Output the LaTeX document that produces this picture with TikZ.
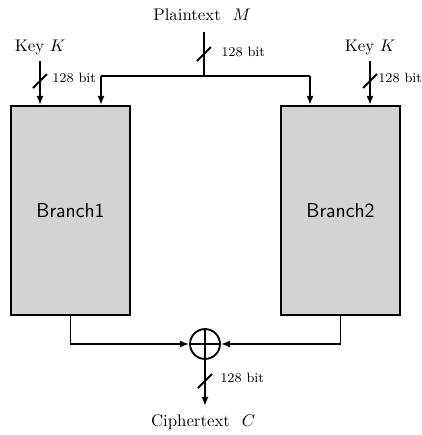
\documentclass[tikz,border=0pt]{standalone}
\usetikzlibrary{arrows.meta,calc}
\definecolor{boxgray}{HTML}{D3D3D3}
\begin{document}
\begin{tikzpicture}[x=0.595pt,y=-0.595pt,
  wire/.style={line width=1.1pt},
  arr/.style={wire,-{Latex[length=5.5pt,width=4.3pt]}},
  branch/.style={draw,line width=1.1pt,fill=boxgray,minimum width=70.8pt,minimum height=124.4pt,inner sep=0pt,font=\sffamily\large},
  bits/.style={font=\footnotesize,anchor=west,inner sep=0pt},
  lbl/.style={inner sep=0pt}]
\useasboundingbox (0,0) rectangle (422,435);
\clip (0,0) rectangle (422,435);

% boxes
\node[branch] (b1) at (70.5,210.5) {Branch1};
\node[branch] (b2) at (340.5,210.5) {Branch2};

% XOR
\node[draw,circle,wire,minimum size=17.8pt,inner sep=0pt] (xor) at (205,344) {};
\draw[wire] (xor.north) -- (xor.south);
\draw[wire] (xor.west) -- (xor.east);

% texts
\node[lbl] (pt) at (202,15) {Plaintext\hspace{7pt}$M$};
\node[lbl] (kl) at (40,47) {Key $K$};
\node[lbl] (kr) at (370,47) {Key $K$};
\node[lbl] (ct) at (203,422) {Ciphertext\hspace{7pt}$C$};

% coordinates
\coordinate (ptop) at (204,32);
\coordinate (pj) at (204,76);
\coordinate (dl) at (101,76);
\coordinate (dr) at (310,76);
\coordinate (klt) at (40,61);
\coordinate (krt) at (370,61);
\coordinate (outtip) at (205,406);
\coordinate (s1) at (204,54);
\coordinate (s2) at (40,81);
\coordinate (s3) at (370,81);
\coordinate (s4) at (205,381);

% plaintext distribution
\draw[wire] (ptop) -- (pj);
\draw[wire] (dl) -- (dr);
\draw[arr] (dl) -- (dl |- b1.north);
\draw[arr] (dr) -- (dr |- b2.north);

% keys
\draw[arr] (klt) -- (klt |- b1.north);
\draw[arr] (krt) -- (krt |- b2.north);

% to xor
\draw[arr] (b1.south) |- (xor.west);
\draw[arr] (b2.south) |- (xor.east);
\draw[arr] (xor.south) -- (outtip);

% bus slashes
\foreach \s in {s1,s2,s3,s4}
  \draw[wire] ($(\s)+(-7,7)$) -- ($(\s)+(7,-7)$);

% bit labels
\node[bits] (l1) at (221,52) {128 bit};
\node[bits] (l2) at (52,78) {128 bit};
\node[bits] (l3) at (378,78) {128 bit};
\node[bits] (l4) at (220,378) {128 bit};
\end{tikzpicture}
\end{document}
